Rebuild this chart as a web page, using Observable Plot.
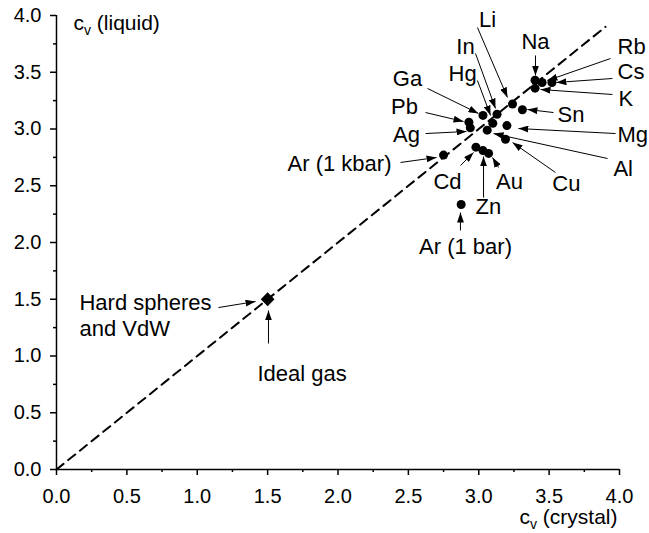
<!DOCTYPE html>
<html>
<head>
<meta charset="utf-8">
<script src="https://cdn.jsdelivr.net/npm/d3@7"></script>
<script src="https://cdn.jsdelivr.net/npm/@observablehq/plot@0.6"></script>
<style>
  html, body { margin: 0; padding: 0; background: white; }
  #chart svg { display: block; }
</style>
</head>
<body>
<div id="chart"></div>
<script>
// ---- data ----
const names     = ["Li", "Na", "K", "Rb", "Cs", "Sn", "Ga", "In", "Hg", "Pb", "Ag", "Mg", "Al", "Cu", "Cd", "Zn", "Au", "Ar (1 kbar)", "Ar (1 bar)"];
const cvCrystal = [3.24, 3.40, 3.40, 3.45, 3.52, 3.31, 3.03, 3.13, 3.10, 2.93, 2.94, 3.20, 3.06, 3.19, 2.98, 3.03, 3.07, 2.75, 2.875];
const cvLiquid  = [3.22, 3.43, 3.36, 3.41, 3.41, 3.17, 3.12, 3.13, 3.05, 3.06, 3.01, 3.03, 2.99, 2.91, 2.84, 2.81, 2.785, 2.77, 2.335];

const hsName = "Hard spheres and VdW / Ideal gas";
const hsCrystal = [1.5];
const hsLiquid  = [1.5];

const diagonal = [0, 3.9];

const xTicks = [0, 0.5, 1, 1.5, 2, 2.5, 3, 3.5, 4];
const yTicks = [0, 0.5, 1, 1.5, 2, 2.5, 3, 3.5, 4];
const minorTicks = [0.25, 0.75, 1.25, 1.75, 2.25, 2.75, 3.25, 3.75];

// annotation labels (data units)
const annText   = ["Li", "In", "Na", "Rb", "Cs", "K", "Sn", "Mg", "Al", "Cu", "Au", "Zn", "Cd", "Ar (1 kbar)", "Ar (1 bar)", "Ag", "Pb", "Ga", "Hg", "Hard spheres\nand VdW", "Ideal gas"];
const annX      = [3.062, 2.906, 3.403, 3.986, 3.986, 3.993, 3.560, 3.986, 3.957, 3.623, 3.218, 3.069, 2.778, 2.380, 2.906, 2.487, 2.472, 2.494, 2.885, 0.163, 1.428];
const annY      = [3.974, 3.736, 3.780, 3.736, 3.515, 3.278, 3.137, 2.960, 2.661, 2.529, 2.546, 2.326, 2.546, 2.705, 1.974, 2.960, 3.207, 3.454, 3.498, 1.366, 0.855];
const annAnchor = ["middle", "middle", "middle", "start", "start", "start", "start", "start", "start", "middle", "middle", "middle", "middle", "end", "middle", "middle", "middle", "middle", "middle", "start", "start"];

// annotation arrows (data units): from (x1,y1) to (x2,y2)
const arrowX1 = [2.991, 2.977, 3.403, 3.936, 3.950, 3.950, 3.531, 3.972, 3.915, 3.545, 3.140, 3.034, 2.870, 2.444, 2.870, 2.622, 2.622, 2.636, 2.991, 1.151, 1.506];
const arrowY1 = [3.894, 3.665, 3.648, 3.621, 3.445, 3.304, 3.145, 2.960, 2.740, 2.617, 2.661, 2.396, 2.678, 2.705, 2.106, 2.960, 3.145, 3.357, 3.427, 1.427, 1.110];
const arrowX2 = [3.204, 3.119, 3.403, 3.488, 3.552, 3.439, 3.346, 3.282, 3.105, 3.240, 3.098, 3.034, 2.963, 2.700, 2.870, 2.913, 2.892, 2.998, 3.084, 1.414, 1.506];
const arrowY2 = [3.278, 3.181, 3.471, 3.427, 3.410, 3.348, 3.172, 3.004, 2.960, 2.881, 2.749, 2.758, 2.793, 2.749, 2.264, 2.978, 3.066, 3.137, 3.119, 1.480, 1.401];

// ---- tables built from the arrays ----
const points = names.map((n, i) => ({name: n, x: cvCrystal[i], y: cvLiquid[i]}));
const hs = hsCrystal.map((x, i) => ({name: hsName, x, y: hsLiquid[i]}));
const ann = annText.map((t, i) => ({text: t, x: annX[i], y: annY[i], anchor: annAnchor[i]}));
const arrows = arrowX1.map((x1, i) => ({x1, y1: arrowY1[i], x2: arrowX2[i], y2: arrowY2[i]}));

const FONT = "'Liberation Sans', Arial, Helvetica, sans-serif";

const textMark = (anchor) => Plot.text(ann, {
  filter: d => d.anchor === anchor,
  x: "x", y: "y", text: "text",
  textAnchor: anchor, lineAnchor: "middle", lineHeight: 1.2,
  fontSize: 22, fill: "black"
});

const chart = Plot.plot({
  width: 649,
  height: 533,
  marginLeft: 56,
  marginRight: 30,
  marginTop: 15,
  marginBottom: 64,
  style: {fontFamily: FONT, fontSize: "20px", background: "white", color: "black", overflow: "visible"},
  x: {domain: [0, 4]},
  y: {domain: [0, 4]},
  marks: [
    Plot.axisX({ticks: minorTicks, tickSize: 3, tickFormat: () => "", strokeWidth: 1.5, label: null}),
    Plot.axisY({ticks: minorTicks, tickSize: 3, tickFormat: () => "", strokeWidth: 1.5, label: null}),
    Plot.axisX({ticks: xTicks, tickSize: 6, tickPadding: 13, tickFormat: d3.format(".1f"), strokeWidth: 1.5, fontSize: 20, label: null}),
    Plot.axisY({ticks: yTicks, tickSize: 6, tickPadding: 9, tickFormat: d3.format(".1f"), strokeWidth: 1.5, fontSize: 20, label: null}),
    Plot.ruleY([0], {stroke: "black", strokeWidth: 1.5}),
    Plot.ruleX([0], {stroke: "black", strokeWidth: 1.5}),
    Plot.line(diagonal, {x: d => d, y: d => d, stroke: "black", strokeWidth: 2, strokeDasharray: "9,6"}),
    Plot.link(arrows, {x1: "x1", y1: "y1", x2: "x2", y2: "y2", stroke: "black", strokeWidth: 1}),
    Plot.dot(points, {x: "x", y: "y", r: 4.5, fill: "black", stroke: "none"}),
    Plot.dot(hs, {x: "x", y: "y", r: 6.2, symbol: "diamond2", fill: "black", stroke: "none"}),
    textMark("start"),
    textMark("middle"),
    textMark("end"),
    Plot.text(["cv (liquid)"], {frameAnchor: "top-left", dx: 17, dy: 8, textAnchor: "start", lineAnchor: "middle", fontSize: 21, fill: "black"}),
    Plot.text(["cv (crystal)"], {frameAnchor: "bottom-right", dx: -2, dy: 48, textAnchor: "end", lineAnchor: "middle", fontSize: 21, fill: "black"})
  ]
});

// filled arrowheads for the annotation links
const ns = "http://www.w3.org/2000/svg";
const svg = chart.tagName.toLowerCase() === "svg" ? chart : chart.querySelector("svg");
const defs = document.createElementNS(ns, "defs");
const marker = document.createElementNS(ns, "marker");
marker.setAttribute("id", "ahead");
marker.setAttribute("viewBox", "0 0 10 7");
marker.setAttribute("refX", "10");
marker.setAttribute("refY", "3.5");
marker.setAttribute("markerUnits", "userSpaceOnUse");
marker.setAttribute("markerWidth", "10");
marker.setAttribute("markerHeight", "7");
marker.setAttribute("orient", "auto");
const mp = document.createElementNS(ns, "path");
mp.setAttribute("d", "M0,0L10,3.5L0,7Z");
mp.setAttribute("fill", "black");
marker.appendChild(mp);
defs.appendChild(marker);
svg.insertBefore(defs, svg.firstChild);
svg.querySelectorAll('g[aria-label="link"] path').forEach(p => p.setAttribute("marker-end", "url(#ahead)"));

// subscript v in axis labels
svg.querySelectorAll("text").forEach(t => {
  const s = t.textContent;
  if (s === "cv (liquid)" || s === "cv (crystal)") {
    const rest = s.slice(2);
    while (t.firstChild) t.removeChild(t.firstChild);
    const a = document.createElementNS(ns, "tspan"); a.textContent = "c";
    const b = document.createElementNS(ns, "tspan"); b.textContent = "v";
    b.setAttribute("font-size", "14"); b.setAttribute("dy", "5");
    const c = document.createElementNS(ns, "tspan"); c.textContent = rest;
    c.setAttribute("dy", "-5");
    t.appendChild(a); t.appendChild(b); t.appendChild(c);
  }
});

document.getElementById("chart").appendChild(chart);
</script>
</body>
</html>
